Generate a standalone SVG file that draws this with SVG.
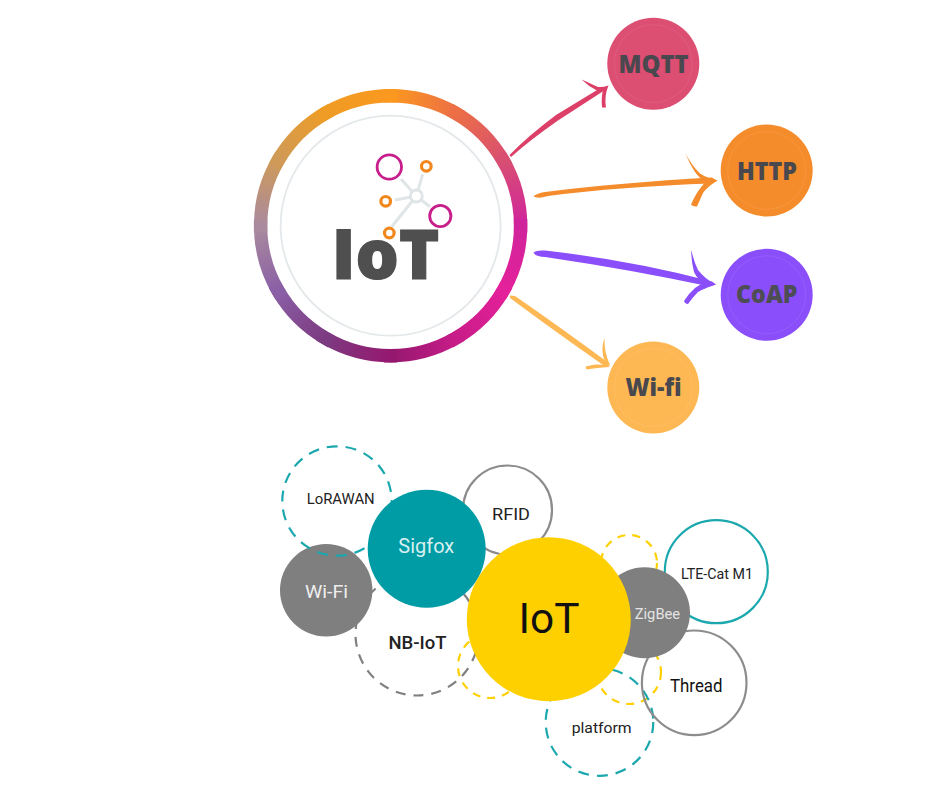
<svg xmlns="http://www.w3.org/2000/svg" width="945" height="800" viewBox="0 0 945 800">
<style>
.hb{font-family:"Open Sans","Liberation Sans",sans-serif;font-weight:800;text-anchor:start}
.lb{font-family:Roboto,"Liberation Sans",sans-serif;text-anchor:start;font-weight:400}
.lm{font-family:Roboto,"Liberation Sans",sans-serif;text-anchor:start;font-weight:500}
.seg{fill:none;stroke-width:13.4;stroke-linecap:square}
.ringin{fill:none;stroke:#fff;stroke-opacity:.08;stroke-width:1}
.spoke{stroke:#e0e5e7;stroke-width:3;fill:none}
.mg{fill:none;stroke:#c81e8c;stroke-width:2.8}
.or{fill:#fff;stroke:#f0881e;stroke-width:3.2}
.tl{fill:none;stroke:#1aa8ae;stroke-width:2.2;stroke-dasharray:11 8}
.gd{fill:none;stroke:#808080;stroke-width:2.2;stroke-dasharray:10 8}
.yl{fill:none;stroke:#ffd000;stroke-width:2.2;stroke-dasharray:8 7}
.gs{fill:none;stroke:#8c8c8c;stroke-width:2.2}
</style>
<defs>
<linearGradient id="g0" gradientUnits="userSpaceOnUse" x1="390.6" y1="95.7" x2="455.6" y2="113.1"><stop offset="0" stop-color="#fb981f"/><stop offset="1" stop-color="#ec6f45"/></linearGradient>
<linearGradient id="g1" gradientUnits="userSpaceOnUse" x1="455.6" y1="113.1" x2="503.2" y2="160.7"><stop offset="0" stop-color="#ec6f45"/><stop offset="1" stop-color="#d84f72"/></linearGradient>
<linearGradient id="g2" gradientUnits="userSpaceOnUse" x1="503.2" y1="160.7" x2="520.6" y2="225.7"><stop offset="0" stop-color="#d84f72"/><stop offset="1" stop-color="#d0249c"/></linearGradient>
<linearGradient id="g3" gradientUnits="userSpaceOnUse" x1="520.6" y1="225.7" x2="503.2" y2="290.7"><stop offset="0" stop-color="#d0249c"/><stop offset="1" stop-color="#e4209a"/></linearGradient>
<linearGradient id="g4" gradientUnits="userSpaceOnUse" x1="503.2" y1="290.7" x2="455.6" y2="338.3"><stop offset="0" stop-color="#e4209a"/><stop offset="1" stop-color="#c81c88"/></linearGradient>
<linearGradient id="g5" gradientUnits="userSpaceOnUse" x1="455.6" y1="338.3" x2="390.6" y2="355.7"><stop offset="0" stop-color="#c81c88"/><stop offset="1" stop-color="#95186f"/></linearGradient>
<linearGradient id="g6" gradientUnits="userSpaceOnUse" x1="390.6" y1="355.7" x2="325.6" y2="338.3"><stop offset="0" stop-color="#95186f"/><stop offset="1" stop-color="#7c3a80"/></linearGradient>
<linearGradient id="g7" gradientUnits="userSpaceOnUse" x1="325.6" y1="338.3" x2="278" y2="290.7"><stop offset="0" stop-color="#7c3a80"/><stop offset="1" stop-color="#8a5fa6"/></linearGradient>
<linearGradient id="g8" gradientUnits="userSpaceOnUse" x1="278" y1="290.7" x2="260.6" y2="225.7"><stop offset="0" stop-color="#8a5fa6"/><stop offset="1" stop-color="#a98a9e"/></linearGradient>
<linearGradient id="g9" gradientUnits="userSpaceOnUse" x1="260.6" y1="225.7" x2="278" y2="160.7"><stop offset="0" stop-color="#a98a9e"/><stop offset="1" stop-color="#cf9a58"/></linearGradient>
<linearGradient id="g10" gradientUnits="userSpaceOnUse" x1="278" y1="160.7" x2="325.6" y2="113.1"><stop offset="0" stop-color="#cf9a58"/><stop offset="1" stop-color="#ee9c25"/></linearGradient>
<linearGradient id="g11" gradientUnits="userSpaceOnUse" x1="325.6" y1="113.1" x2="390.6" y2="95.7"><stop offset="0" stop-color="#ee9c25"/><stop offset="1" stop-color="#fb981f"/></linearGradient>
</defs>
<rect width="945" height="800" fill="#fff"/>

<g id="connectors">
<g id="arrow-mqtt" fill="#dc4068">
<path d="M509.5,155 Q528,136 556,115 L602,87 L605,90 L558,120.5 Q530,140 511,157 Z"/>
<path d="M581.5,79.5 Q592,84 598,87 Q603,87.5 608.5,85.5 L604,90 L597,90.5 Q588,86 581.5,79.5 Z"/>
<path d="M608.5,85.5 Q604,96 606,107.5 L602,107.5 Q601,96 603.5,88 Z"/>
</g>
<g id="arrow-http" fill="#f58c2c">
<path d="M533.5,196.5 Q536,193.5 545,192 Q620,182.5 712,177.5 L717,180.7 L712,183.5 Q620,186.5 548,196 Q538,199 533.5,196.5 Z"/>
<path d="M685.3,153.3 Q692,166 700,173.5 Q707,178 717.5,180.5 L708,184 Q699,178 695,172 Q689,163 685.3,153.3 Z"/>
<path d="M717.5,180.5 Q708,186 703,193 L697,206.5 Q693,207 691,204.5 Q696,193 702,186 Q706,181 710,178 Z"/>
</g>
<g id="arrow-coap" fill="#8a4ffa">
<path d="M533.5,252.5 Q536,250 545,250.5 Q630,260 712,281.5 L716,284.5 L710,286.5 Q630,269.5 545,257 Q535,256.5 533.5,252.5 Z"/>
<path d="M691.3,250 Q694,262 698,270 Q705,279 715.5,284.5 L707,286 Q697,279 694,272 Q691,260 691.3,250 Z"/>
<path d="M715.5,284.5 Q705,288 698,292 Q693,297 688,304 Q685,304 684,301 Q689,293 695,288 Q702,283 708,281 Z"/>
</g>
<g id="arrow-wifi" fill="#fdb853">
<path d="M510,295.5 L515,296 Q560,327 610,364 L606,367 Q555,331.5 510,298 Z"/>
<path d="M604.5,338 Q604,352 610,365 L605,362 Q600,350 604.5,338 Z"/>
<path d="M610,365.5 Q600,364 595,364.5 Q590,365.5 585.5,366.5 L586.5,369.5 Q597,367.5 609,367 Z"/>
</g>
</g>

<g id="node-iot-main">
<g id="ring">
<path class="seg" stroke="url(#g0)" d="M390.6,95.7 A130,130 0 0 1 455.6,113.1"/>
<path class="seg" stroke="url(#g1)" d="M455.6,113.1 A130,130 0 0 1 503.2,160.7"/>
<path class="seg" stroke="url(#g2)" d="M503.2,160.7 A130,130 0 0 1 520.6,225.7"/>
<path class="seg" stroke="url(#g3)" d="M520.6,225.7 A130,130 0 0 1 503.2,290.7"/>
<path class="seg" stroke="url(#g4)" d="M503.2,290.7 A130,130 0 0 1 455.6,338.3"/>
<path class="seg" stroke="url(#g5)" d="M455.6,338.3 A130,130 0 0 1 390.6,355.7"/>
<path class="seg" stroke="url(#g6)" d="M390.6,355.7 A130,130 0 0 1 325.6,338.3"/>
<path class="seg" stroke="url(#g7)" d="M325.6,338.3 A130,130 0 0 1 278,290.7"/>
<path class="seg" stroke="url(#g8)" d="M278,290.7 A130,130 0 0 1 260.6,225.7"/>
<path class="seg" stroke="url(#g9)" d="M260.6,225.7 A130,130 0 0 1 278,160.7"/>
<path class="seg" stroke="url(#g10)" d="M278,160.7 A130,130 0 0 1 325.6,113.1"/>
<path class="seg" stroke="url(#g11)" d="M325.6,113.1 A130,130 0 0 1 390.6,95.7"/>
</g>
<circle cx="390.6" cy="225.7" r="110" fill="none" stroke="#e4e8ea" stroke-width="1.8"/>
<text class="hb" x="331.8" y="278.5" font-size="69" fill="#4f4f4f" stroke="#4f4f4f" stroke-width="1.2" textLength="107.5" lengthAdjust="spacingAndGlyphs">IoT</text>
<g id="icon">
<path class="spoke" d="M416.3,196 L401,179 M416.3,196 L422.7,174.3 M416.3,196 L395,200 M416.3,196 L430,206.7 M416.3,196 L391.7,226.7"/>
<circle cx="416.3" cy="196" r="6" fill="#fff" stroke="#dfe4e6" stroke-width="2.8"/>
<circle class="mg" cx="389.3" cy="167" r="12.2"/>
<circle class="mg" cx="440.3" cy="216" r="10.6"/>
<circle class="or" cx="426.3" cy="166.3" r="4.8"/>
<circle class="or" cx="385.7" cy="201.3" r="4.8"/>
<circle class="or" cx="389.3" cy="233" r="4.8"/>
</g>
</g>

<g id="node-mqtt">
<circle cx="653.3" cy="63.7" r="46" fill="#dc4e72"/><circle class="ringin" cx="653.3" cy="63.7" r="39"/>
<text class="hb" x="618.5" y="73.3" font-size="24" fill="#48484e" textLength="70" lengthAdjust="spacingAndGlyphs">MQTT</text>
</g>
<g id="node-http">
<circle cx="766.7" cy="170.5" r="46" fill="#f58c2c"/><circle class="ringin" cx="766.7" cy="170.5" r="39"/>
<text class="hb" x="737" y="180" font-size="24" fill="#48484e" textLength="60" lengthAdjust="spacingAndGlyphs">HTTP</text>
</g>
<g id="node-coap">
<circle cx="766.7" cy="294.8" r="46" fill="#8a4ffa"/><circle class="ringin" cx="766.7" cy="294.8" r="39"/>
<text class="hb" x="736" y="303.3" font-size="24" fill="#4d4d55" textLength="61.5" lengthAdjust="spacingAndGlyphs">CoAP</text>
</g>
<g id="node-wifi">
<circle cx="653.3" cy="387.5" r="46" fill="#fdb853"/><circle class="ringin" cx="653.3" cy="387.5" r="39"/>
<text class="hb" x="625.5" y="396" font-size="24" fill="#48484e" textLength="56" lengthAdjust="spacingAndGlyphs">Wi-fi</text>
</g>

<g id="lower-wifi">
<circle cx="326.2" cy="590.3" r="46.2" fill="#7f7f7f"/>
<text class="lb" x="305" y="598.3" font-size="18.5" fill="#eeeeee" textLength="43" lengthAdjust="spacingAndGlyphs">Wi-Fi</text>
</g>
<g id="lower-nbiot">
<circle class="gd" cx="417" cy="634" r="61.5"/>
<text class="lm" x="388.5" y="649" font-size="17.5" fill="#222" textLength="58" lengthAdjust="spacingAndGlyphs">NB-IoT</text>
</g>
<g id="lower-rfid">
<circle class="gs" cx="507.5" cy="510" r="44.5"/>
<text class="lb" x="492" y="520" font-size="16.5" fill="#222" textLength="38" lengthAdjust="spacingAndGlyphs">RFID</text>
</g>
<g id="lower-lorawan">
<circle class="tl" cx="337" cy="501" r="54.7"/>
<text class="lb" x="306.7" y="504" font-size="14" fill="#222" textLength="68" lengthAdjust="spacingAndGlyphs">LoRAWAN</text>
</g>
<g id="lower-dash-yellow-1"><circle class="yl" cx="490" cy="666" r="32"/></g>
<g id="lower-dash-yellow-2"><circle class="yl" cx="629" cy="563" r="28"/></g>
<g id="lower-dash-yellow-3"><circle class="yl" cx="629" cy="672" r="32"/></g>
<g id="lower-platform">
<circle class="tl" cx="599.5" cy="722" r="53.8"/>
<text class="lb" x="571.7" y="733" font-size="15.5" fill="#222" textLength="60" lengthAdjust="spacingAndGlyphs">platform</text>
</g>
<g id="lower-thread">
<circle class="gs" cx="694.2" cy="682.8" r="52.3"/>
<text class="lb" x="670" y="692.3" font-size="17.5" fill="#111" textLength="52.5" lengthAdjust="spacingAndGlyphs">Thread</text>
</g>
<g id="lower-lte">
<circle cx="716.3" cy="571.7" r="51.5" fill="none" stroke="#1aa8ae" stroke-width="2.2"/>
<text class="lb" x="681" y="579" font-size="14" fill="#222" textLength="72" lengthAdjust="spacingAndGlyphs">LTE-Cat M1</text>
</g>
<g id="lower-zigbee">
<circle cx="644.5" cy="612.8" r="45.5" fill="#7f7f7f"/>
<text class="lb" x="634.7" y="619" font-size="15" fill="#e4e4e4" textLength="45.5" lengthAdjust="spacingAndGlyphs">ZigBee</text>
</g>
<g id="lower-sigfox">
<circle cx="426.7" cy="548.8" r="59" fill="#009ca6"/>
<text class="lb" x="398.3" y="552.7" font-size="19.5" fill="#d8f0f0" textLength="56" lengthAdjust="spacingAndGlyphs">Sigfox</text>
</g>
<g id="lower-iot">
<circle cx="548.8" cy="619.2" r="82" fill="#ffd000"/>
<text class="lb" x="518.5" y="633.3" font-size="43" fill="#111" textLength="61" lengthAdjust="spacingAndGlyphs">IoT</text>
</g>
</svg>
